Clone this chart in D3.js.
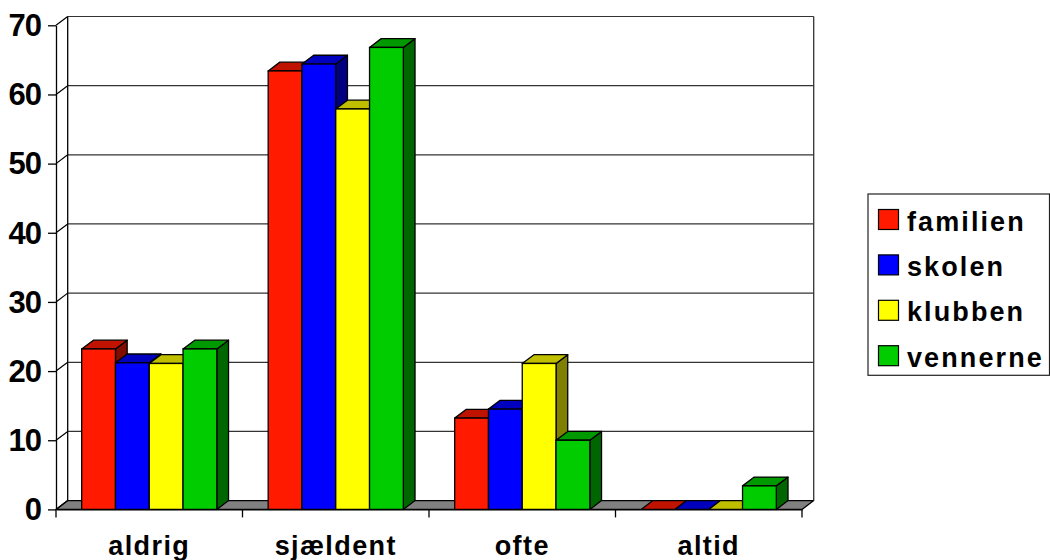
<!DOCTYPE html>
<html>
<head>
<meta charset="utf-8">
<script src="https://cdn.jsdelivr.net/npm/d3@7"></script>
<style>
body { margin: 0; background: #fff; }
text { font-family: "Liberation Sans", Arial, sans-serif; font-weight: bold; fill: #000; }
</style>
</head>
<body>
<script>
// values
var categories = ["aldrig", "sjældent", "ofte", "altid"];
var seriesNames = ["familien", "skolen", "klubben", "vennerne"];
var familien = [23.2, 63.4, 13.2, 0];
var skolen = [21.2, 64.4, 14.5, 0];
var klubben = [21.1, 57.9, 21.1, 0];
var vennerne = [23.2, 66.8, 10, 3.4];
var seriesValues = [familien, skolen, klubben, vennerne];
var yTicks = [0, 10, 20, 30, 40, 50, 60, 70];

var frontColors = ["#ff1a00", "#0000ff", "#ffff00", "#00cc00"];
var topColors = ["#bf1300", "#0000bf", "#bfbf00", "#009900"];
var sideColors = ["#800d00", "#000080", "#808000", "#006600"];

var plotLeft = 56, plotRight = 802, plotBottom = 509.4, plotTop = 25.3;
var depthX = 11.7, depthY = 8.8;

var svg = d3.select("body").append("svg")
	.attr("width", 1050)
	.attr("height", 560);

var y = d3.scaleLinear().domain([0, 70]).range([plotBottom, plotTop]);
var x0 = d3.scaleBand().domain(categories).range([plotLeft, plotRight]);
var x1 = d3.scaleBand().domain(seriesNames)
	.range([0, x0.bandwidth()])
	.paddingInner(0)
	.paddingOuter(0.76);

function poly(points, fill) {
	return svg.append("polygon")
		.attr("points", points.map(function(p) { return p.join(","); }).join(" "))
		.attr("fill", fill)
		.attr("stroke", "#000")
		.attr("stroke-width", 1.3)
		.attr("stroke-linejoin", "round");
}

// floor
poly([[plotLeft, plotBottom], [plotLeft + depthX, plotBottom - depthY], [plotRight + depthX, plotBottom - depthY], [plotRight, plotBottom]], "#808080");

// gridlines on the back and left walls
yTicks.forEach(function(t) {
	if (t > 0) {
		svg.append("line")
			.attr("x1", plotLeft + depthX).attr("x2", plotRight + depthX)
			.attr("y1", y(t) - depthY).attr("y2", y(t) - depthY)
			.attr("stroke", "#333").attr("stroke-width", 1.2);
	}
	svg.append("line")
		.attr("x1", plotLeft).attr("x2", plotLeft + depthX)
		.attr("y1", y(t)).attr("y2", y(t) - depthY)
		.attr("stroke", "#000").attr("stroke-width", 1.2);
});

// walls outline
svg.append("line").attr("x1", plotLeft + depthX).attr("x2", plotLeft + depthX)
	.attr("y1", y(70) - depthY).attr("y2", plotBottom - depthY)
	.attr("stroke", "#000").attr("stroke-width", 1.3);
svg.append("line").attr("x1", plotRight + depthX).attr("x2", plotRight + depthX)
	.attr("y1", y(70) - depthY).attr("y2", plotBottom - depthY)
	.attr("stroke", "#333").attr("stroke-width", 1.3);

// bars, drawn left to right so each one covers the side of the one before
categories.forEach(function(cat, c) {
	seriesNames.forEach(function(name, s) {
		var v = seriesValues[s][c];
		var xa = x0(cat) + x1(name);
		var xb = xa + x1.bandwidth();
		var yt = y(v);
		if (v > 0) {
			poly([[xb, yt], [xb + depthX, yt - depthY], [xb + depthX, plotBottom - depthY], [xb, plotBottom]], sideColors[s]);
		}
		poly([[xa, yt], [xa + depthX, yt - depthY], [xb + depthX, yt - depthY], [xb, yt]], topColors[s]);
		if (v > 0) {
			svg.append("rect")
				.attr("x", xa).attr("y", yt)
				.attr("width", xb - xa).attr("height", plotBottom - yt)
				.attr("fill", frontColors[s])
				.attr("stroke", "#000").attr("stroke-width", 1.3);
		}
	});
});

// y axis
var yAxis = svg.append("g")
	.attr("transform", "translate(" + plotLeft + ",0)")
	.call(d3.axisLeft(y).tickValues(yTicks).tickSize(8).tickPadding(7).tickSizeOuter(0));
yAxis.selectAll("text").style("font-size", "31px").style("letter-spacing", "-1px").attr("dy", "0.33em");
yAxis.selectAll("line, path").attr("stroke", "#000").attr("stroke-width", 1.3);

// x axis: ticks sit on the category boundaries
var xAxis = svg.append("g")
	.attr("transform", "translate(0," + plotBottom + ")")
	.call(d3.axisBottom(x0).tickSize(0).tickPadding(26));
xAxis.selectAll("text").style("font-size", "27px").style("letter-spacing", "1.4px");
xAxis.select("path").attr("stroke", "#000").attr("stroke-width", 1.3);
categories.concat(["end"]).forEach(function(cat, i) {
	var tx = i < categories.length ? x0(cat) : plotRight;
	svg.append("line")
		.attr("x1", tx).attr("x2", tx)
		.attr("y1", plotBottom).attr("y2", plotBottom + 8)
		.attr("stroke", "#000").attr("stroke-width", 1.3);
});

// legend
var legend = svg.append("g");
legend.append("rect")
	.attr("x", 868).attr("y", 194)
	.attr("width", 181.5).attr("height", 181.3)
	.attr("fill", "#fff").attr("stroke", "#222").attr("stroke-width", 1.2);
seriesNames.forEach(function(name, s) {
	legend.append("rect")
		.attr("x", 878.5).attr("y", 209.5 + s * 45.4)
		.attr("width", 20).attr("height", 20)
		.attr("fill", frontColors[s])
		.attr("stroke", "#000").attr("stroke-width", 1.2);
	legend.append("text")
		.attr("x", 907).attr("y", 230.5 + s * 45.4)
		.style("font-size", "27px")
		.style("letter-spacing", "2.1px")
		.text(name);
});
</script>
</body>
</html>
